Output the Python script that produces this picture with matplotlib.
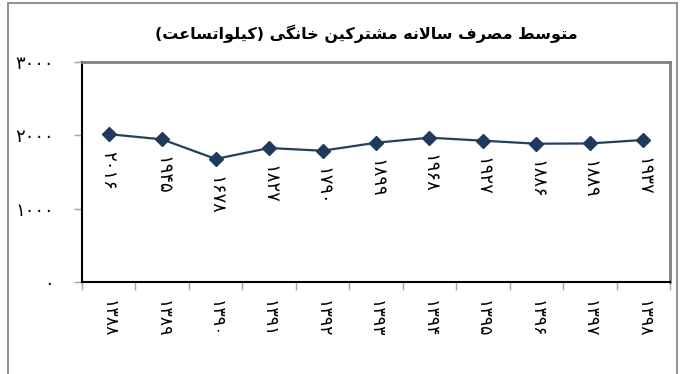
import matplotlib
matplotlib.use("Agg")
import matplotlib.pyplot as plt
from matplotlib.patches import Rectangle

# Annual residential consumption per subscriber (kWh), years 1388-1398
years = ["۱۳۸۸", "۱۳۸۹", "۱۳۹۰", "۱۳۹۱", "۱۳۹۲", "۱۳۹۳",
         "۱۳۹۴", "۱۳۹۵", "۱۳۹۶", "۱۳۹۷", "۱۳۹۸"]
consumption = [2016, 1945, 1678, 1827, 1790, 1899, 1968, 1927, 1886, 1889, 1937]
y_ticks = [0, 1000, 2000, 3000]
title_text = "متوسط مصرف سالانه مشترکین خانگی (کیلواتساعت)"

PERSIAN_DIGITS = "۰۱۲۳۴۵۶۷۸۹"


def fa_num(n):
    return "".join(PERSIAN_DIGITS[int(c)] for c in str(n))


# presentation forms: (isolated, final, initial, medial); None for right-joining
FORMS = {
    "ا": (0xFE8D, 0xFE8E, None, None),
    "ت": (0xFE95, 0xFE96, 0xFE97, 0xFE98),
    "خ": (0xFEA5, 0xFEA6, 0xFEA7, 0xFEA8),
    "ر": (0xFEAD, 0xFEAE, None, None),
    "س": (0xFEB1, 0xFEB2, 0xFEB3, 0xFEB4),
    "ش": (0xFEB5, 0xFEB6, 0xFEB7, 0xFEB8),
    "ص": (0xFEB9, 0xFEBA, 0xFEBB, 0xFEBC),
    "ط": (0xFEC1, 0xFEC2, 0xFEC3, 0xFEC4),
    "ع": (0xFEC9, 0xFECA, 0xFECB, 0xFECC),
    "ف": (0xFED1, 0xFED2, 0xFED3, 0xFED4),
    "ل": (0xFEDD, 0xFEDE, 0xFEDF, 0xFEE0),
    "م": (0xFEE1, 0xFEE2, 0xFEE3, 0xFEE4),
    "ن": (0xFEE5, 0xFEE6, 0xFEE7, 0xFEE8),
    "ه": (0xFEE9, 0xFEEA, 0xFEEB, 0xFEEC),
    "و": (0xFEED, 0xFEEE, None, None),
    "ک": (0xFB8E, 0xFB8F, 0xFB90, 0xFB91),
    "گ": (0xFB92, 0xFB93, 0xFB94, 0xFB95),
    "ی": (0xFBFC, 0xFBFD, 0xFBFE, 0xFBFF),
    "لا": (0xFEFB, 0xFEFC, None, None),
}


def shape(text):
    # split into units, merging lam + alef into one ligature
    units = []
    i = 0
    while i < len(text):
        if text[i] == "ل" and i + 1 < len(text) and text[i + 1] == "ا":
            units.append("لا")
            i += 2
        else:
            units.append(text[i])
            i += 1

    out = []
    for k, u in enumerate(units):
        if u not in FORMS:
            out.append(u)
            continue
        f = FORMS[u]
        prev = units[k - 1] if k > 0 else None
        nxt = units[k + 1] if k + 1 < len(units) else None
        joins_prev = prev in FORMS and FORMS[prev][2] is not None
        joins_next = nxt in FORMS and f[2] is not None
        if joins_prev and joins_next:
            code = f[3]
        elif joins_prev:
            code = f[1]
        elif joins_next:
            code = f[2]
        else:
            code = f[0]
        out.append(chr(code))

    # visual order is right-to-left; mirror the brackets
    vis = "".join(reversed(out))
    return vis.translate(str.maketrans("()", ")("))


plt.rcParams['font.family'] = ['DejaVu Sans']

fig = plt.figure(figsize=(6.83, 3.74), dpi=100)
ax = fig.add_axes([82 / 683, 1 - 282 / 374, 588 / 683, 220 / 374])

# outer chart frame
fig.patches.append(Rectangle((8 / 683, -0.1), 669 / 683, 1.1 - 3 / 374,
                             transform=fig.transFigure, fill=False,
                             edgecolor="#7f7f7f", linewidth=1.2))

xs = list(range(len(years)))
ax.plot(xs, consumption, color="#243F60", linewidth=1.6,
        marker="D", markersize=7, markerfacecolor="#1F3A5F",
        markeredgecolor="#1F3A5F", zorder=3)

for x, v in zip(xs, consumption):
    ax.annotate(fa_num(v), (x, v), xytext=(0, -12), textcoords="offset points",
                rotation=-90, ha="center", va="top", fontsize=13,
                color="black")

ax.set_xlim(-0.5, len(years) - 0.5)
ax.set_ylim(0, 3000)

# category ticks sit between the years, labels at the centres
ax.set_xticks([i - 0.5 for i in range(len(years) + 1)])
ax.set_xticklabels([])
ax.set_xticks(xs, minor=True)
ax.set_xticklabels(years, minor=True, rotation=-90, fontsize=12.5)
ax.tick_params(axis="x", which="major", length=6, color="#a6a6a6", width=1)
ax.tick_params(axis="x", which="minor", length=0, pad=13)

ax.set_yticks(y_ticks)
ax.set_yticklabels([fa_num(t) for t in y_ticks], fontsize=13)
ax.tick_params(axis="y", length=6, color="#a6a6a6", width=1, pad=14)

for side in ["left", "bottom"]:
    ax.spines[side].set_color("black")
    ax.spines[side].set_linewidth(1.5)
for side in ["top", "right"]:
    ax.spines[side].set_color("#808080")
    ax.spines[side].set_linewidth(2)

fig.text(366 / 683, 1 - 34 / 374, shape(title_text), ha="center", va="center",
         fontsize=11.5, fontweight="bold")

fig.savefig("out.png", dpi=100)
